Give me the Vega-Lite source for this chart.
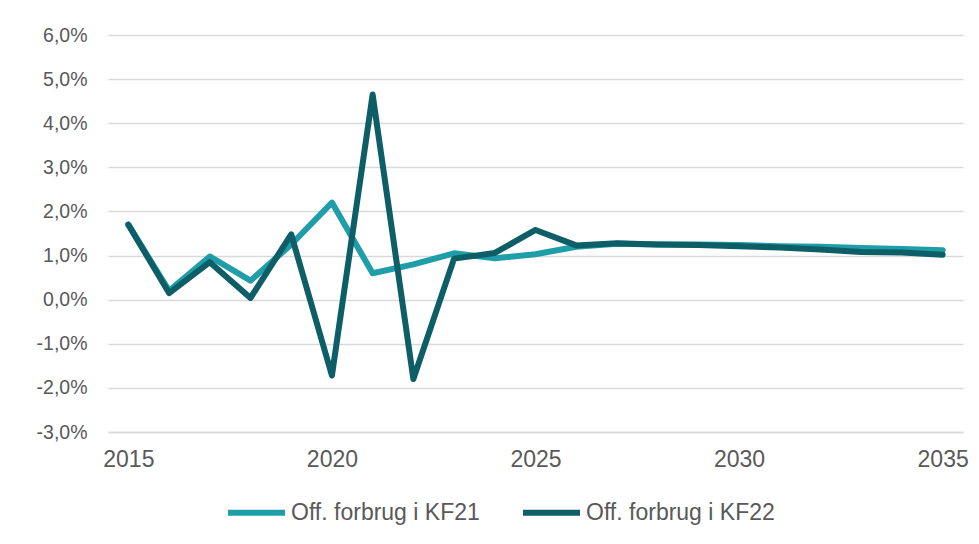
{
  "$schema": "https://vega.github.io/schema/vega-lite/v6.json",
  "width": 855,
  "height": 397,
  "autosize": {"type": "none"},
  "padding": {"left": 108, "top": 35, "right": 16, "bottom": 112},
  "background": "white",
  "config": {
    "view": {"stroke": null},
    "font": "Liberation Sans"
  },
  "data": {
    "values": [
      {"year": 2015, "series": "Off. forbrug i KF21", "value": 1.7},
      {"year": 2016, "series": "Off. forbrug i KF21", "value": 0.2},
      {"year": 2017, "series": "Off. forbrug i KF21", "value": 0.98},
      {"year": 2018, "series": "Off. forbrug i KF21", "value": 0.43},
      {"year": 2019, "series": "Off. forbrug i KF21", "value": 1.25},
      {"year": 2020, "series": "Off. forbrug i KF21", "value": 2.2},
      {"year": 2021, "series": "Off. forbrug i KF21", "value": 0.6},
      {"year": 2022, "series": "Off. forbrug i KF21", "value": 0.8},
      {"year": 2023, "series": "Off. forbrug i KF21", "value": 1.05},
      {"year": 2024, "series": "Off. forbrug i KF21", "value": 0.94},
      {"year": 2025, "series": "Off. forbrug i KF21", "value": 1.03},
      {"year": 2026, "series": "Off. forbrug i KF21", "value": 1.2},
      {"year": 2027, "series": "Off. forbrug i KF21", "value": 1.27},
      {"year": 2028, "series": "Off. forbrug i KF21", "value": 1.25},
      {"year": 2029, "series": "Off. forbrug i KF21", "value": 1.25},
      {"year": 2030, "series": "Off. forbrug i KF21", "value": 1.24},
      {"year": 2031, "series": "Off. forbrug i KF21", "value": 1.21},
      {"year": 2032, "series": "Off. forbrug i KF21", "value": 1.2},
      {"year": 2033, "series": "Off. forbrug i KF21", "value": 1.17},
      {"year": 2034, "series": "Off. forbrug i KF21", "value": 1.15},
      {"year": 2035, "series": "Off. forbrug i KF21", "value": 1.12},
      {"year": 2015, "series": "Off. forbrug i KF22", "value": 1.7},
      {"year": 2016, "series": "Off. forbrug i KF22", "value": 0.15},
      {"year": 2017, "series": "Off. forbrug i KF22", "value": 0.85},
      {"year": 2018, "series": "Off. forbrug i KF22", "value": 0.04},
      {"year": 2019, "series": "Off. forbrug i KF22", "value": 1.48},
      {"year": 2020, "series": "Off. forbrug i KF22", "value": -1.72},
      {"year": 2021, "series": "Off. forbrug i KF22", "value": 4.65},
      {"year": 2022, "series": "Off. forbrug i KF22", "value": -1.8},
      {"year": 2023, "series": "Off. forbrug i KF22", "value": 0.93},
      {"year": 2024, "series": "Off. forbrug i KF22", "value": 1.06},
      {"year": 2025, "series": "Off. forbrug i KF22", "value": 1.58},
      {"year": 2026, "series": "Off. forbrug i KF22", "value": 1.23},
      {"year": 2027, "series": "Off. forbrug i KF22", "value": 1.28},
      {"year": 2028, "series": "Off. forbrug i KF22", "value": 1.25},
      {"year": 2029, "series": "Off. forbrug i KF22", "value": 1.24},
      {"year": 2030, "series": "Off. forbrug i KF22", "value": 1.21},
      {"year": 2031, "series": "Off. forbrug i KF22", "value": 1.18},
      {"year": 2032, "series": "Off. forbrug i KF22", "value": 1.14},
      {"year": 2033, "series": "Off. forbrug i KF22", "value": 1.08},
      {"year": 2034, "series": "Off. forbrug i KF22", "value": 1.07},
      {"year": 2035, "series": "Off. forbrug i KF22", "value": 1.02}
    ]
  },
  "mark": {"type": "line", "strokeWidth": 6, "strokeJoin": "round", "strokeCap": "round"},
  "encoding": {
    "x": {
      "field": "year",
      "type": "quantitative",
      "scale": {"domain": [2014.5, 2035.5], "nice": false, "zero": false},
      "axis": {
        "title": null,
        "values": [2015, 2020, 2025, 2030, 2035],
        "format": "d",
        "grid": false,
        "ticks": false,
        "domain": true,
        "domainColor": "#d9d9d9",
        "domainWidth": 1.5,
        "labelFontSize": 23,
        "labelColor": "#595959",
        "labelPadding": 16
      }
    },
    "y": {
      "field": "value",
      "type": "quantitative",
      "scale": {"domain": [-3, 6], "nice": false},
      "axis": {
        "title": null,
        "values": [-3, -2, -1, 0, 1, 2, 3, 4, 5, 6],
        "labelExpr": "replace(replace(format(datum.value, '.1f'), '.', ','), '−', '-') + '%'",
        "grid": true,
        "gridColor": "#d9d9d9",
        "gridWidth": 1.5,
        "ticks": false,
        "domain": false,
        "labelFontSize": 19.5,
        "labelColor": "#595959",
        "labelPadding": 21
      }
    },
    "color": {
      "field": "series",
      "type": "nominal",
      "scale": {"domain": ["Off. forbrug i KF21", "Off. forbrug i KF22"], "range": ["#1f9eaa", "#0d5e66"]},
      "legend": {
        "title": null,
        "orient": "none",
        "direction": "horizontal",
        "legendX": 117,
        "legendY": 446,
        "symbolType": "stroke",
        "symbolSize": 3249,
        "symbolStrokeWidth": 6,
        "labelFontSize": 23,
        "labelLimit": 0,
        "labelColor": "#595959",
        "labelOffset": 3,
        "columnPadding": 31
      }
    }
  }
}
